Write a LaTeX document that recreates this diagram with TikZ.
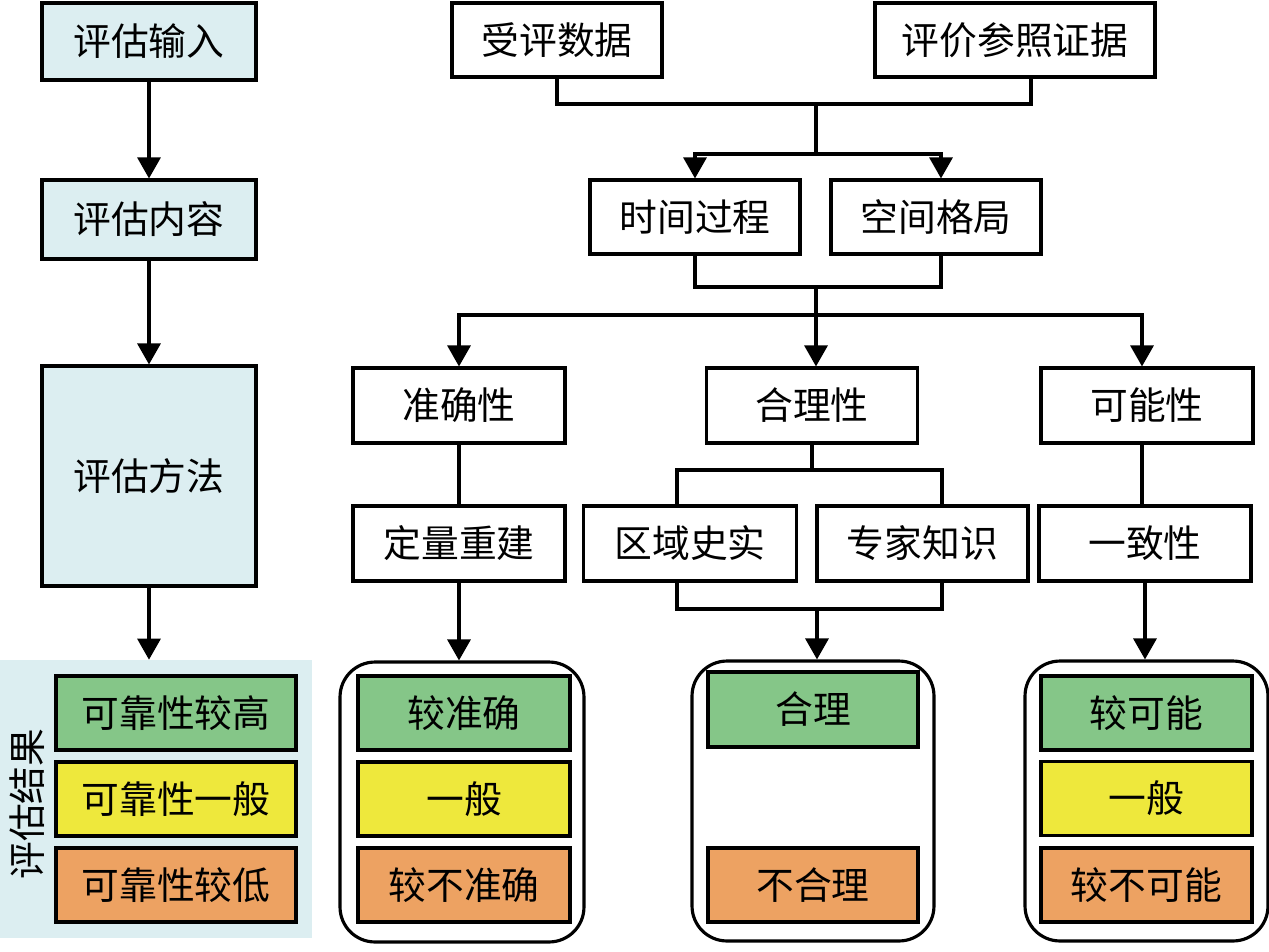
\documentclass[tikz,border=0pt]{standalone}
\usepackage{fontspec}
\setmainfont{Noto Sans CJK SC}
\usepackage{tikz}
\usetikzlibrary{arrows.meta,positioning}
\usepackage{xcolor}
\definecolor{panelblue}{HTML}{DCEEF1}
\definecolor{highgreen}{HTML}{85C688}
\definecolor{midyellow}{HTML}{EEE83C}
\definecolor{loworange}{HTML}{EDA262}

\begin{document}
\begin{tikzpicture}[x=0.02cm, y=-0.02cm, >={Triangle[width=0.46cm,length=0.42cm]},
    box/.style={draw, line width=1.8pt, minimum height=1.48cm, inner sep=0pt,
                font=\fontsize{21.5}{21.5}\selectfont},
    stepbox/.style={box, fill=panelblue, minimum width=4.28cm},
    highbox/.style={box, fill=highgreen},
    midbox/.style={box, fill=midyellow},
    lowbox/.style={box, fill=loworange},
    holder/.style={draw, line width=1.8pt, rounded corners=0.7cm, inner sep=0pt,
                   minimum height=5.6cm},
    link/.style={line width=1.8pt}]
    \useasboundingbox (0,0) rectangle (1269,951);

    % Left column: steps of the evaluation
    \node[stepbox, minimum height=1.54cm] (input) at (149,41.5) {评估输入};
    \node[stepbox, minimum height=1.58cm] (content) at (149,219.5) {评估内容};
    \node[stepbox, minimum height=4.4cm] (method) at (149,476) {评估方法};
    \node[fill=panelblue, minimum width=6.24cm, minimum height=5.56cm, inner sep=0pt] (result) at (156,799) {};
    \node[rotate=90, font=\fontsize{21.5}{21.5}\selectfont] (resultlabel) at (27,804) {评估结果};
    \node[highbox, minimum width=4.8cm] (rhigh) at (176,713) {可靠性较高};
    \node[midbox, minimum width=4.8cm] (rmid) at (176,799) {可靠性一般};
    \node[lowbox, minimum width=4.8cm] (rlow) at (176,885) {可靠性较低};

    \draw[link, ->] (input) -- (content);
    \draw[link, ->] (content) -- (method);
    \draw[link, ->] (method.south) -- (method.south |- result.north);

    % Data and reference evidence
    \node[box, minimum width=4.2cm] (data) at (557,40) {受评数据};
    \node[box, minimum width=5.6cm] (evidence) at (1015,40) {评价参照证据};
    \node[box, minimum width=4.2cm] (time) at (695,217) {时间过程};
    \node[box, minimum width=4.2cm] (space) at (936,217) {空间格局};

    \coordinate (bus1) at (816,104);
    \coordinate (bus2) at (816,154);
    \draw[link] (data.south) |- (bus1) -| ([xshift=0.32cm]evidence.south);
    \draw[link] (bus1) -- (bus2);
    \draw[link, ->] (bus2) -| (time.north);
    \draw[link, ->] (bus2) -| ([xshift=0.1cm]space.north);

    % Three criteria
    \node[box, minimum width=4.24cm, minimum height=1.5cm] (accuracy) at (459,405.5) {准确性};
    \node[box, minimum width=4.22cm, minimum height=1.5cm] (reason) at (812,405.5) {合理性};
    \node[box, minimum width=4.24cm, minimum height=1.5cm] (possible) at (1147,405.5) {可能性};

    \coordinate (bus3) at (816,287);
    \coordinate (bus4) at (816,315);
    \draw[link] (time.south) |- (bus3) -| ([xshift=0.1cm]space.south);
    \draw[link] (bus3) -- (bus4);
    \draw[link, ->] (bus4) -| (accuracy.north);
    \draw[link, ->] (bus4) -- (reason.north -| bus4);
    \draw[link, ->] (bus4) -| ([xshift=-0.1cm]possible.north);

    % Methods under each criterion
    \node[box, minimum width=4.24cm, minimum height=1.5cm] (rebuild) at (459,543.5) {定量重建};
    \node[box, minimum width=4.26cm, minimum height=1.5cm] (history) at (690,543.5) {区域史实};
    \node[box, minimum width=4.22cm, minimum height=1.5cm] (expert) at (922.5,543.5) {专家知识};
    \node[box, minimum width=4.24cm, minimum height=1.5cm] (consist) at (1145,543.5) {一致性};

    \draw[link] (accuracy) -- (rebuild);
    \draw[link] ([xshift=-0.1cm]possible.south) -- ([xshift=-0.1cm]possible.south |- consist.north);
    \coordinate (bus5) at (812,470);
    \coordinate (bus6) at (817,609);
    \draw[link] (reason.south) -- (bus5);
    \draw[link] ([xshift=-0.26cm]history.north) |- (bus5) -| ([xshift=0.39cm]expert.north);
    \draw[link] ([xshift=-0.26cm]history.south) |- (bus6) -| ([xshift=0.39cm]expert.south);

    % Grades
    \node[holder, minimum width=4.88cm] (accgrade) at (462,802) {};
    \node[holder, minimum width=4.84cm] (reagrade) at (813,801) {};
    \node[holder, minimum width=4.86cm] (posgrade) at (1146.5,801) {};

    \draw[link, ->] (rebuild.south) -- (accgrade.north -| rebuild.south);
    \draw[link, ->] (bus6) -- (reagrade.north -| bus6);
    \draw[link, ->] (consist.south) -- (posgrade.north -| consist.south);

    \node[highbox, minimum width=4.24cm] (acchigh) at (464,713) {较准确};
    \node[midbox, minimum width=4.24cm] (accmid) at (464,799) {一般};
    \node[lowbox, minimum width=4.24cm] (acclow) at (464,885) {较不准确};

    \node[highbox, minimum width=4.2cm, minimum height=1.5cm] (reahigh) at (813,709.5) {合理};
    \node[lowbox, minimum width=4.2cm] (realow) at (813,885) {不合理};

    \node[highbox, minimum width=4.22cm] (poshigh) at (1146.5,713) {较可能};
    \node[midbox, minimum width=4.22cm] (posmid) at (1146.5,798.5) {一般};
    \node[lowbox, minimum width=4.22cm] (poslow) at (1146.5,885) {较不可能};
\end{tikzpicture}
\end{document}
